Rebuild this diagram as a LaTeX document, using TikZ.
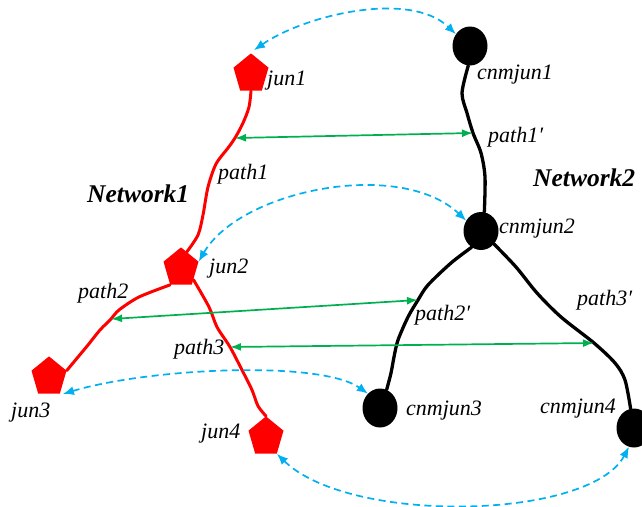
\documentclass[tikz,border=0pt]{standalone}
\usepackage{fontspec}
\setmainfont{Liberation Serif}
\usetikzlibrary{shapes.geometric,arrows.meta}
\definecolor{netred}{RGB}{255,0,0}
\definecolor{linkblue}{RGB}{0,176,240}
\definecolor{linkgreen}{RGB}{0,176,80}
\tikzset{
  junc/.style={regular polygon, regular polygon sides=5, fill=netred, minimum size=36.8pt, inner sep=0pt, yscale=1.12, transform shape},
  cnm/.style={ellipse, fill=black, minimum width=35pt, minimum height=39pt, inner sep=0pt},
  lbl/.style={font=\itshape\fontsize{22}{24}\selectfont, inner sep=0pt, anchor=base west},
  netlbl/.style={font=\bfseries\itshape\fontsize{25.5}{28}\selectfont, inner sep=0pt, anchor=base west},
  redpath/.style={draw=netred, line width=3pt, line join=round, line cap=round},
  blackpath/.style={draw=black, line width=3.3pt, line join=round, line cap=round},
  maplink/.style={draw=linkblue, dash pattern=on 7pt off 4.5pt, line width=1.7pt, {Latex[length=11pt,width=9pt]}-{Latex[length=11pt,width=9pt]}},
  pathlink/.style={draw=linkgreen, line width=1.7pt, {Latex[length=11pt,width=8pt]}-{Latex[length=11pt,width=8pt]}},
}
\begin{document}
\begin{tikzpicture}[x=1pt,y=-1pt]
\useasboundingbox (0,0) rectangle (642,506);

% junctions of network 1 (slightly tall pentagons)
\begin{scope}[shift={(251,74)}]\node[junc] (jun1) at (0,0) {};\end{scope}
\begin{scope}[shift={(181,268)}]\node[junc] (jun2) at (0,0) {};\end{scope}
\begin{scope}[shift={(49,377)}]\node[junc] (jun3) at (0,0) {};\end{scope}
\begin{scope}[shift={(266,437)}]\node[junc] (jun4) at (0,0) {};\end{scope}

% junctions of network 2
\node[cnm] (c1) at (470,46) {};
\node[cnm, minimum height=38pt] (c2) at (481,231) {};
\node[cnm] (c3) at (380,408) {};
\node[cnm] (c4) at (634,428) {};

% points on the pipes joined by the green links
\coordinate (p1m) at (235,138);
\coordinate (p2m) at (111,319);
\coordinate (p3m) at (230,347);
\coordinate (q1m) at (473,133);
\coordinate (q2m) at (418,300);
\coordinate (q3m) at (594,343);

% network 1 pipes
\draw[redpath] plot[smooth, tension=0.5] coordinates {(jun1.south) (249,107) (243,123) (p1m) (228,148) (216,164) (208,187) (203,215) (198,235) (jun2.68)};
\draw[redpath] plot[smooth, tension=0.5] coordinates {(jun2.corner 3) (139,297) (119,310) (p2m) (100,330) (88,345) (78,357) (jun3.corner 5)};
\draw[redpath] plot[smooth, tension=0.5] coordinates {(jun2.-40) (209,307) (217,327) (p3m) (242,370) (252,390) (258,406) (jun4.north)};

% network 2 pipes
\draw[blackpath] plot[smooth, tension=0.5] coordinates {(c1.265) (462,93) (467,113) (q1m) (481,153) (485,177) (c2.80)};
\draw[blackpath] plot[smooth, tension=0.5] coordinates {(c2.240) (451,263) (428,285) (q2m) (408,317) (398,340) (394,357) (391,373) (c3.70)};
\draw[blackpath] plot[smooth, tension=0.5] coordinates {(c2.-45) (516,267) (537,293) (561,317) (q3m) (615,363) (625,380) (c4.100)};

% labels
\node[lbl] (l1) at (267,85) {jun1};
\node[lbl] (l2) at (209,273) {jun2};
\node[lbl] (l3) at (11,417) {jun3};
\node[lbl] (l4) at (201,438) {jun4};
\node[lbl] (lc1) at (477,79) {cnmjun1};
\node[lbl] (lc2) at (499,233) {cnmjun2};
\node[lbl] (lc3) at (406,415) {cnmjun3};
\node[lbl] (lc4) at (540,413) {cnmjun4};
\node[lbl] (lp1) at (218,179) {path1};
\node[lbl] (lp2) at (78,298) {path2};
\node[lbl] (lp3) at (174,354) {path3};
\node[lbl] (lq1) at (488,142) {path1′};
\node[lbl] (lq2) at (415,320) {path2′};
\node[lbl] (lq3) at (577,305) {path3′};
\node[netlbl] (n1) at (87,202) {Network1};
\node[netlbl] (n2) at (533,186) {Network2};

% correspondence between pipes
\draw[pathlink] (p1m) -- (q1m);
\draw[pathlink] (p2m) -- (q2m);
\draw[pathlink] (p3m) -- (q3m);

% correspondence between junctions
\draw[maplink] ([shift={(3,-3)}]jun1.north) .. controls (305,15) and (410,-10) .. (c1.140);
\draw[maplink] (jun2.corner 5) .. controls (240,190) and (400,158) .. (c2.145);
\draw[maplink] ([shift={(3,0)}]jun3.corner 4) .. controls (150,368) and (320,360) .. (c3.130);
\draw[maplink] (jun4.corner 4) .. controls (350,525) and (590,520) .. (c4.255);
\end{tikzpicture}
\end{document}
